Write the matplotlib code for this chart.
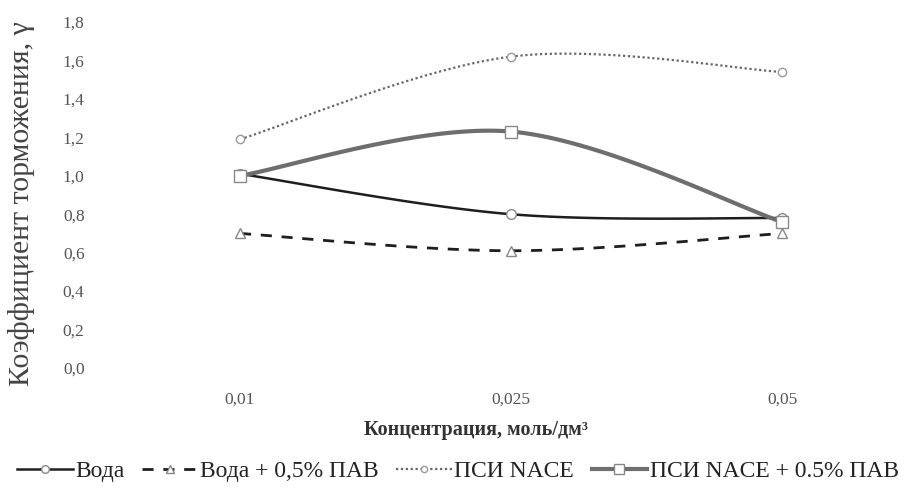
import numpy as np
import matplotlib
matplotlib.use("Agg")
import matplotlib.pyplot as plt
from matplotlib.lines import Line2D

plt.rcParams['font.family'] = ['Liberation Serif', 'DejaVu Serif']

categories = ["0,01", "0,025", "0,05"]
voda = [1.01, 0.80, 0.78]
voda_pav = [0.70, 0.61, 0.70]
psi_nace = [1.19, 1.62, 1.54]
psi_nace_pav = [1.00, 1.23, 0.76]
yticks = [0.0, 0.2, 0.4, 0.6, 0.8, 1.0, 1.2, 1.4, 1.6, 1.8]
ytick_labels = ["0,0", "0,2", "0,4", "0,6", "0,8", "1,0", "1,2", "1,4", "1,6", "1,8"]


def smooth(xs, ys, n=40):
    # Excel-like smoothed line (Catmull-Rom as cubic Bezier)
    P = np.column_stack([xs, ys]).astype(float)
    ext = np.vstack([P[0], P, P[-1]])
    out = []
    t = np.linspace(0, 1, n)[:, None]
    for i in range(len(P) - 1):
        p0, p1, p2, p3 = ext[i], ext[i + 1], ext[i + 2], ext[i + 3]
        c1 = p1 + (p2 - p0) / 6
        c2 = p2 - (p3 - p1) / 6
        seg = ((1 - t) ** 3) * p1 + 3 * ((1 - t) ** 2) * t * c1 + 3 * (1 - t) * t ** 2 * c2 + t ** 3 * p2
        out.append(seg if i == 0 else seg[1:])
    s = np.vstack(out)
    return s[:, 0], s[:, 1]


fig = plt.figure(figsize=(9.05, 4.88), dpi=100)
W, H = 905, 488
left, right, top, bottom = 95, 900, 22, 368
ax = fig.add_axes([left / W, (H - bottom) / H, (right - left) / W, (bottom - top) / H])

x = np.arange(len(categories))
series = [
    (voda, dict(color="#1e1e1e", lw=1.8, ls="-"), dict(marker="o", ms=7, mfc="white", mec="#888888", mew=1.0), "Вода"),
    (voda_pav, dict(color="#1e1e1e", lw=2.0, ls=(0, (4, 3.5))), dict(marker="^", ms=7, mfc="white", mec="#888888", mew=1.0), "Вода + 0,5% ПАВ"),
    (psi_nace, dict(color="#666666", lw=1.6, ls=(0, (1, 1.2))), dict(marker="o", ms=6, mfc="white", mec="#999999", mew=1.0), "ПСИ NACE"),
    (psi_nace_pav, dict(color="#6e6e6e", lw=3.0, ls="-"), dict(marker="s", ms=8, mfc="white", mec="#888888", mew=1.0), "ПСИ NACE + 0.5% ПАВ"),
]
handles = []
for ys, lst, mst, lab in series:
    sx, sy = smooth(x, ys)
    ax.plot(sx, sy, zorder=2, **lst)
    ax.plot(x, ys, ls="none", zorder=3, **mst)
    hm = dict(mst)
    hm["ms"] = mst["ms"] - 1.5
    handles.append(Line2D([0], [0], label=lab, **lst, **hm))

ax.set_xlim(-(240 - left) / 271, 2 + (right - 782) / 271)
ax.set_ylim(0, 1.8)
ax.set_xticks(x)
ax.set_xticklabels(categories)
ax.set_yticks(yticks)
ax.set_yticklabels(ytick_labels)
for s in ax.spines.values():
    s.set_visible(False)
ax.tick_params(axis="both", length=0, labelsize=12.5, colors="#555555")
ax.tick_params(axis="y", pad=7.5)
ax.tick_params(axis="x", pad=17)

fig.text(476 / W, (H - 430) / H, "Концентрация, моль/дм³", fontsize=14.5, fontweight="bold",
         color="#333333", ha="center", va="center")
fig.text(22 / W, (H - 204) / H, "Коэффициент торможения, γ", rotation=90, fontsize=21.5,
         color="#444444", ha="center", va="center")

fig.legend(handles=handles, loc="center", bbox_to_anchor=(458 / W, (H - 471) / H), ncol=4, frameon=False,
           fontsize=17, handlelength=2.35, columnspacing=0.75, handletextpad=0.1, labelcolor="#222222",
           borderpad=0, borderaxespad=0)

fig.savefig("out.png", dpi=100, facecolor="white")
